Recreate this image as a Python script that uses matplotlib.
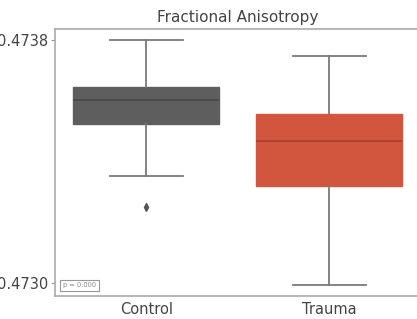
import matplotlib
matplotlib.use("Agg")
import matplotlib.pyplot as plt

groups = ["Control", "Trauma"]
whislo = [0.473352, 0.472993]
q1 = [0.473523, 0.473319]
med = [0.473602, 0.473468]
q3 = [0.473645, 0.473556]
whishi = [0.473800, 0.473747]
fliers = [[0.473250], []]
colors = ["#5e5e5e", "#d2553e"]
yticks = [0.4730, 0.4738]
title = "Fractional Anisotropy"
ptext = "p = 0.000"

W, H = 417, 319
fig = plt.figure(figsize=(W / 100, H / 100), dpi=100)
ax = fig.add_axes([55 / W, 1 - 296 / H, (420.5 - 55) / W, (296 - 29) / H])

stats = []
for i, g in enumerate(groups):
    stats.append(dict(label=g, whislo=whislo[i], q1=q1[i], med=med[i],
                      q3=q3[i], whishi=whishi[i], fliers=fliers[i]))

bp = ax.bxp(stats, positions=range(len(groups)), widths=0.8, patch_artist=True,
            showfliers=True,
            whiskerprops=dict(color="#7a7a7a", linewidth=1.3),
            capprops=dict(color="#7a7a7a", linewidth=1.3),
            medianprops=dict(linewidth=1.3),
            flierprops=dict(marker="d", markerfacecolor="#555555",
                            markeredgecolor="#555555", markersize=4))
for patch, c in zip(bp["boxes"], colors):
    patch.set_facecolor(c)
    patch.set_edgecolor(c)
    patch.set_linewidth(1.0)
for m, c in zip(bp["medians"], ["#4a4a4a", "#a8402f"]):
    m.set_color(c)

ax.set_xlim(-0.5, 1.5)
ax.set_ylim(0.472957, 0.473836)
ax.set_yticks(yticks)
ax.set_yticklabels([f"{v:.4f}" for v in yticks])
ax.tick_params(axis="y", labelsize=10.5, length=3, color="#999999", labelcolor="#444444", pad=2)
ax.tick_params(axis="x", labelsize=10.5, length=0, labelcolor="#444444", pad=4)
for s in ax.spines.values():
    s.set_color("#aaaaaa")
    s.set_linewidth(1.2)
ax.spines["right"].set_visible(False)

ax.set_title(title, fontsize=11, color="#444444", pad=5)
ax.text(0.022, 0.04, ptext, transform=ax.transAxes, fontsize=4.8, color="#888888",
        va="center", ha="left",
        bbox=dict(boxstyle="square,pad=0.4", facecolor="white", edgecolor="#999999", linewidth=0.8))

fig.savefig("out.png", dpi=100)
